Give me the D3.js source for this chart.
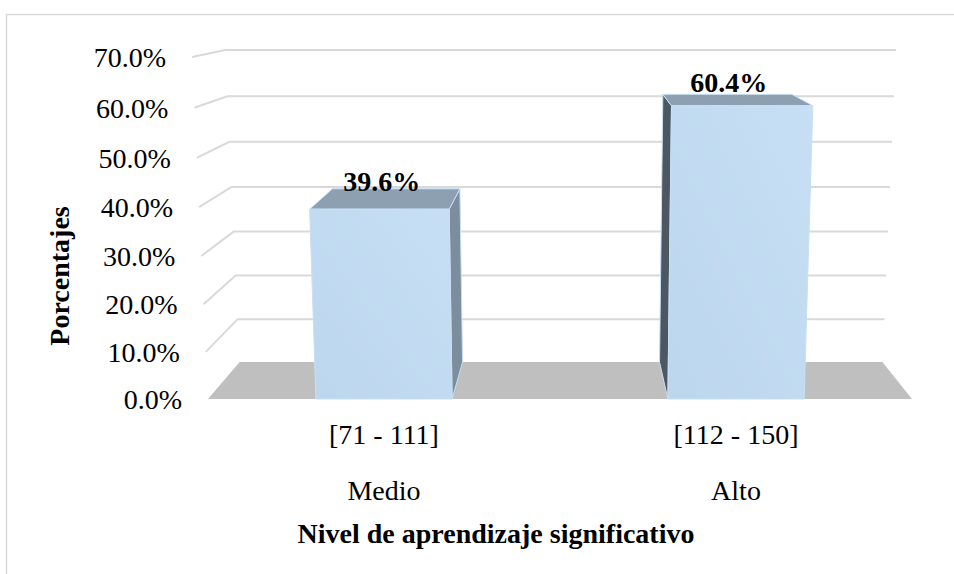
<!DOCTYPE html>
<html>
<head>
<meta charset="utf-8">
<script src="https://cdn.jsdelivr.net/npm/d3@7"></script>
<style>
html,body{margin:0;padding:0;background:#fff;}
svg{display:block;}
text{font-family:"Liberation Serif","Times New Roman",serif;fill:#000;}
</style>
</head>
<body>
<svg id="chart" width="954" height="574"></svg>
<script>
// ---- data ----
const categories = ["[71 - 111]", "[112 - 150]"];
const levels = ["Medio", "Alto"];
const values = [39.6, 60.4];
const tickValues = [0, 10, 20, 30, 40, 50, 60, 70];
const yTitle = "Porcentajes";
const xTitle = "Nivel de aprendizaje significativo";

// ---- geometry ----
const W = 954, H = 574;
const svg = d3.select("#chart");

const x = d3.scaleBand().domain(categories).range([208, 912])
  .paddingInner(0.613).paddingOuter(0.3065);
const y = d3.scaleLinear().domain([0, 70]).range([0, 327.6]);

const baseY = 399, vx = 572, vy = -25, kDepth = 0.087, persp = 0.000128;

function project(X, v, Z) {
  const h = y(v);
  const s = 1 / (1 - persp * h);
  const fx = vx + (X - vx) * s;
  const fy = baseY - h * s;
  return [fx + Z * kDepth * (vx - fx), fy + Z * kDepth * (vy - fy)];
}
const poly = pts => "M" + pts.map(p => p.join(",")).join("L") + "Z";

// outer border
svg.append("rect").attr("x", 6.5).attr("y", 14.5).attr("width", 1000).attr("height", 700)
  .attr("fill", "none").attr("stroke", "#d9d9d9").attr("stroke-width", 1.5);

const defs = svg.append("defs");
const grad = defs.append("linearGradient").attr("id", "frontGrad")
  .attr("x1", "0").attr("y1", "1").attr("x2", "1").attr("y2", "0");
grad.append("stop").attr("offset", "0").attr("stop-color", "#bcd6ee");
grad.append("stop").attr("offset", "1").attr("stop-color", "#c6dff4");

const [x0, x1] = x.range();

// floor
svg.append("path")
  .attr("d", poly([project(x0, 0, 0), project(x1, 0, 0), project(x1, 0, 1), project(x0, 0, 1)]))
  .attr("fill", "#bfbfbf");

// gridlines: side wall + back wall
const grid = svg.append("g").attr("fill", "none").attr("stroke", "#d9d9d9").attr("stroke-width", 2);
tickValues.filter(t => t > 0).forEach(t => {
  grid.append("path").attr("d", d3.line()([project(x0, t, 0), project(x0, t, 1), project(x1, t, 1)]));
});

// tick labels
svg.append("g").selectAll("text").data(tickValues).join("text")
  .attr("x", d => project(x0, d, 0)[0] - 26)
  .attr("y", d => project(x0, d, 0)[1] + 10)
  .attr("text-anchor", "end").attr("font-size", 28)
  .text(d => d3.format(".1f")(d) + "%");

// bars
const bars = svg.append("g");
categories.forEach((c, i) => {
  const v = values[i];
  const bx0 = x(c), bx1 = x(c) + x.bandwidth();
  const g = bars.append("g").attr("stroke", "#c9dff3").attr("stroke-width", 1).attr("stroke-linejoin", "round");
  const center = bx0 + x.bandwidth() / 2;
  if (center < vx) {
    g.append("path").attr("d", poly([project(bx1, 0, 0), project(bx1, 0, 1), project(bx1, v, 1), project(bx1, v, 0)]))
      .attr("fill", "#7c8d9d");
  } else {
    g.append("path").attr("d", poly([project(bx0, 0, 0), project(bx0, 0, 1), project(bx0, v, 1), project(bx0, v, 0)]))
      .attr("fill", "#4b5863");
  }
  g.append("path").attr("d", poly([project(bx0, v, 0), project(bx1, v, 0), project(bx1, v, 1), project(bx0, v, 1)]))
    .attr("fill", "#8da0b2");
  g.append("path").attr("d", poly([project(bx0, 0, 0), project(bx1, 0, 0), project(bx1, v, 0), project(bx0, v, 0)]))
    .attr("fill", "url(#frontGrad)");
  // data label
  const p = project(center, v, 0.5);
  svg.append("text").attr("x", p[0] - 6).attr("y", p[1] - 8)
    .attr("text-anchor", "middle").attr("font-size", 28).attr("font-weight", "bold")
    .text(d3.format(".1f")(v) + "%");
  // category labels
  const cx = project(center, 0, 0)[0];
  svg.append("text").attr("x", cx).attr("y", 444).attr("text-anchor", "middle").attr("font-size", 28).text(c);
  svg.append("text").attr("x", cx).attr("y", 500).attr("text-anchor", "middle").attr("font-size", 28).text(levels[i]);
});

// axis titles
svg.append("text").attr("x", 496).attr("y", 543).attr("text-anchor", "middle")
  .attr("font-size", 28).attr("font-weight", "bold").text(xTitle);
svg.append("text").attr("transform", "translate(69,276) rotate(-90)").attr("text-anchor", "middle")
  .attr("font-size", 28).attr("font-weight", "bold").text(yTitle);
</script>
</body>
</html>
